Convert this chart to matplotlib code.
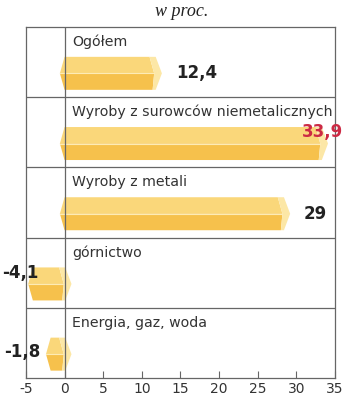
import numpy as np
import matplotlib.pyplot as plt

categories = ['Ogółem', 'Wyroby z surowców niemetalicznych', 'Wyroby z metali',
              'górnictwo', 'Energia, gaz, woda']
values = [12.4, 33.9, 29, -4.1, -1.8]
value_labels = ['12,4', '33,9', '29', '-4,1', '-1,8']
label_colors = ['#222222', '#cc2a44', '#222222', '#222222', '#222222']
xticks = [-5, 0, 5, 10, 15, 20, 25, 30, 35]

TOP = '#fad77a'
BOTTOM = '#f6c14c'
CAP = '#fce7a6'
LINE = '#666666'

fig = plt.figure(figsize=(3.5, 4), dpi=100)
ax = fig.add_axes([0.074, 0.055, 0.883, 0.8775])
ax.set_xlim(-5, 35)
ax.set_ylim(5, 0)

for i, (cat, v) in enumerate(zip(categories, values)):
    yc = i + 0.66
    yt = yc - 0.235
    yb = yc + 0.235
    lo, hi = min(v, 0), max(v, 0)
    tip = hi + (0.9 if v < 0 else 0.2)
    # top face, bottom face, end cap of the prism
    ax.fill([lo - 0.6, lo, tip - 1.6, tip - 1.0], [yc, yt, yt, yc], color=TOP, lw=0)
    ax.fill([lo - 0.6, tip - 1.0, tip - 1.2, lo], [yc, yc, yb, yb], color=BOTTOM, lw=0)
    ax.fill([tip - 1.6, tip - 0.8, tip, tip - 0.8, tip - 1.2, tip - 1.0],
            [yt, yt, yc, yb, yb, yc], color=CAP, lw=0)
    ax.plot([lo - 0.6, tip - 1.0], [yc, yc], color='#fdebb5', lw=0.8)
    ax.text(1.0, i + 0.21, cat, fontsize=10.2, color='#333333', va='center', ha='left')

# value labels
ax.text(values[0] + 2, 0 + 0.66, value_labels[0], fontsize=12, fontweight='bold',
        color=label_colors[0], va='center', ha='left')
ax.text(36.0, 1 + 0.50, value_labels[1], fontsize=12, fontweight='bold',
        color=label_colors[1], va='center', ha='right', clip_on=False)
ax.text(values[2] + 2, 2 + 0.67, value_labels[2], fontsize=12, fontweight='bold',
        color=label_colors[2], va='center', ha='left')
ax.text(-3.35, 3 + 0.50, value_labels[3], fontsize=12, fontweight='bold',
        color=label_colors[3], va='center', ha='right')
ax.text(-3.1, 4 + 0.63, value_labels[4], fontsize=12, fontweight='bold',
        color=label_colors[4], va='center', ha='right')

for k in range(1, 5):
    ax.axhline(k, color=LINE, lw=0.9)
ax.axvline(0, color=LINE, lw=0.9)

for s in ax.spines.values():
    s.set_color(LINE)
    s.set_linewidth(0.9)
ax.set_xticks(xticks)
ax.set_xticklabels([str(t) for t in xticks])
ax.tick_params(axis='x', direction='in', length=5, color=LINE, labelsize=10,
               labelcolor='#333333', pad=3)
ax.set_yticks([])

fig.text(0.52, 0.97, 'w proc.', fontsize=13, style='italic', family='Liberation Serif',
         ha='center', va='center', color='#222222')

fig.savefig('out.png', dpi=100)
